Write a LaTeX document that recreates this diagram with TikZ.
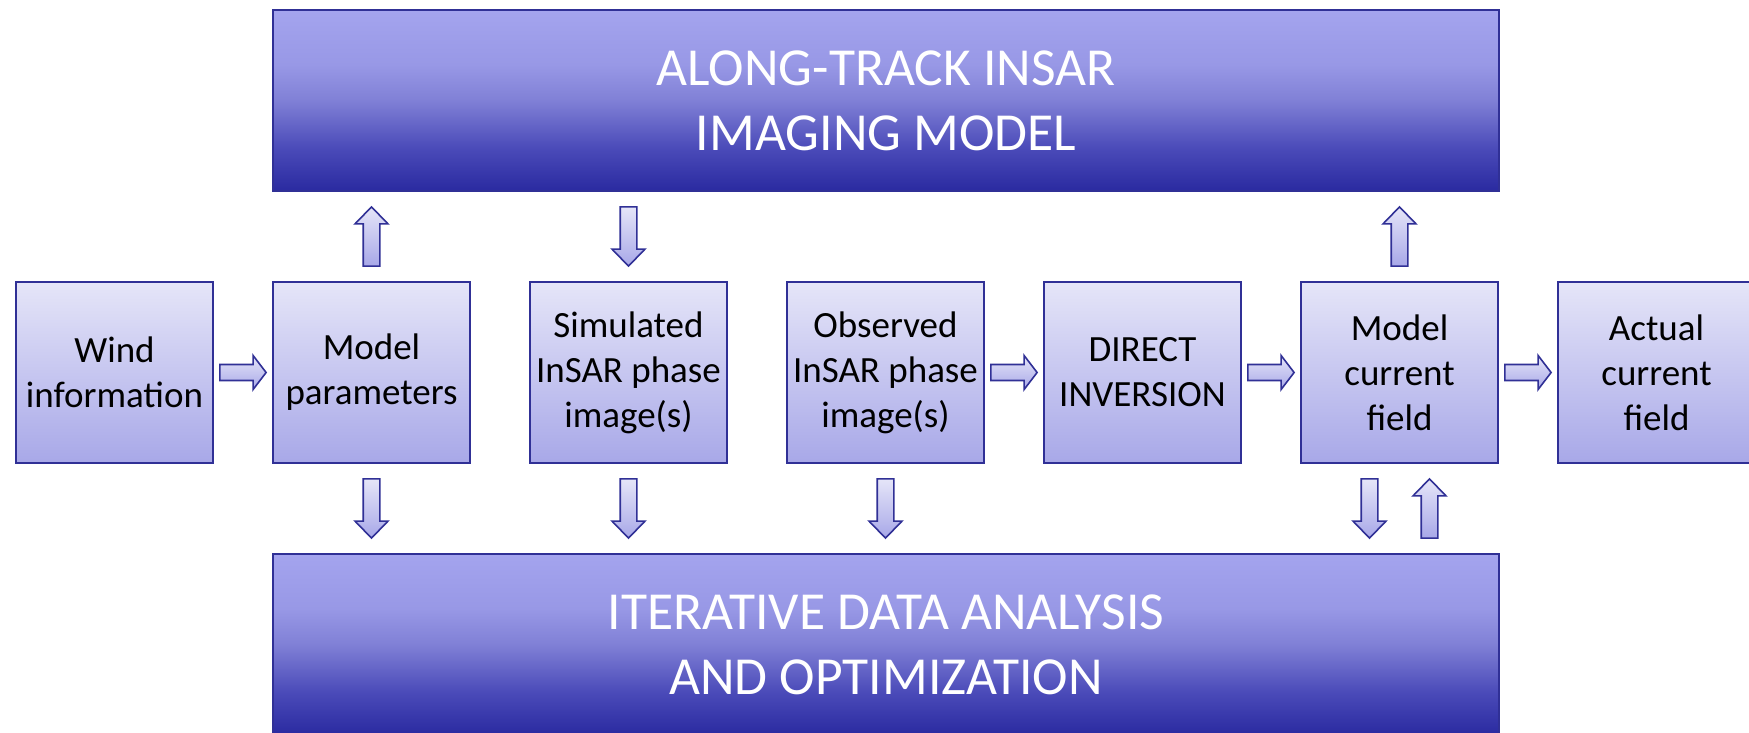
\documentclass[tikz,border=0pt]{standalone}
\usepackage{fontspec}
\setmainfont{Carlito}
\usetikzlibrary{calc}
\definecolor{edge}{RGB}{48,48,150}
\definecolor{sbtop}{RGB}{229,229,248}
\definecolor{sbbot}{RGB}{168,168,232}
\definecolor{bbA}{RGB}{42,42,160}
\definecolor{bbB}{RGB}{75,75,185}
\definecolor{bbC}{RGB}{128,128,214}
\definecolor{bbD}{RGB}{152,152,230}
\definecolor{bbE}{RGB}{164,164,238}
\pgfdeclareverticalshading{bigshade}{100bp}{color(0bp)=(bbA); color(25bp)=(bbA); color(37bp)=(bbB); color(50bp)=(bbC); color(60bp)=(bbD); color(75bp)=(bbE); color(100bp)=(bbE)}
\tikzset{
  smallbox/.style={draw=edge, line width=1.8pt, top color=sbtop, bottom color=sbbot,
    minimum width=197pt, minimum height=181pt, align=center, inner sep=0pt,
    font=\fontsize{37}{45}\selectfont, text=black},
  bigbox/.style={draw=edge, line width=1.8pt, shading=bigshade,
    minimum width=1226pt, minimum height=181pt, align=center, inner sep=0pt,
    font=\fontsize{53.5}{65}\selectfont, text=white},
  barrow/.style={draw=edge, line width=1.6pt, top color=sbtop, bottom color=sbbot, line join=miter}
}
% right block arrow between two nodes
\newcommand\rarr[2]{\path[barrow] let \p1=(#1.east), \p2=(#2.west) in
  (\x1+6pt,\y1+8pt) -- (\x2-19pt,\y1+8pt) -- (\x2-19pt,\y1+17pt) -- (\x2-6pt,\y1)
  -- (\x2-19pt,\y1-17pt) -- (\x2-19pt,\y1-8pt) -- (\x1+6pt,\y1-8pt) -- cycle;}
% up block arrow: lower node, upper node, x reference node, x offset
\newcommand\uarr[4]{\path[barrow] let \p1=(#1.north), \p2=(#2.south), \p3=($(#3.center)+(#4pt,0pt)$) in
  (\x3-8.3pt,\y1+15pt) -- (\x3-8.3pt,\y2-32pt) -- (\x3-16.5pt,\y2-32pt) -- (\x3,\y2-15pt)
  -- (\x3+16.5pt,\y2-32pt) -- (\x3+8.3pt,\y2-32pt) -- (\x3+8.3pt,\y1+15pt) -- cycle;}
% down block arrow: upper node, lower node, x reference node, x offset
\newcommand\darr[4]{\path[barrow] let \p1=(#1.south), \p2=(#2.north), \p3=($(#3.center)+(#4pt,0pt)$) in
  (\x3-8.3pt,\y1-15pt) -- (\x3-8.3pt,\y2+32pt) -- (\x3-16.5pt,\y2+32pt) -- (\x3,\y2+15pt)
  -- (\x3+16.5pt,\y2+32pt) -- (\x3+8.3pt,\y2+32pt) -- (\x3+8.3pt,\y1-15pt) -- cycle;}
\begin{document}
\begin{tikzpicture}[x=1pt,y=-1pt]
\useasboundingbox (0,0) rectangle (1749,733);
\clip (0,0) rectangle (1749,733);
\fill[white] (0,0) rectangle (1749,733);

\node[bigbox] (top) at (886,100.5) {ALONG-TRACK INSAR\\IMAGING MODEL};
\node[bigbox] (bot) at (886,644.5) {ITERATIVE DATA ANALYSIS\\AND OPTIMIZATION};

\node[smallbox] (wind) at (114.5,372.5) {Wind\\information};
\node[smallbox] (mp)   at (371.5,372.5) {Model\\parameters};
\node[smallbox] (sim)  at (628.5,372.5) {Simulated\\InSAR phase\\image(s)};
\node[smallbox] (obs)  at (885.5,372.5) {Observed\\InSAR phase\\image(s)};
\node[smallbox] (di)   at (1142.5,372.5) {DIRECT\\INVERSION};
\node[smallbox] (mcf)  at (1399.5,372.5) {Model\\current\\field};
\node[smallbox] (act)  at (1656.5,372.5) {Actual\\current\\field};

\rarr{wind}{mp}
\rarr{obs}{di}
\rarr{di}{mcf}
\rarr{mcf}{act}

\uarr{mp}{top}{mp}{0}
\darr{top}{sim}{sim}{0}
\uarr{mcf}{top}{mcf}{0}

\darr{mp}{bot}{mp}{0}
\darr{sim}{bot}{sim}{0}
\darr{obs}{bot}{obs}{0}
\darr{mcf}{bot}{mcf}{-30}
\uarr{bot}{mcf}{mcf}{30}
\end{tikzpicture}
\end{document}
